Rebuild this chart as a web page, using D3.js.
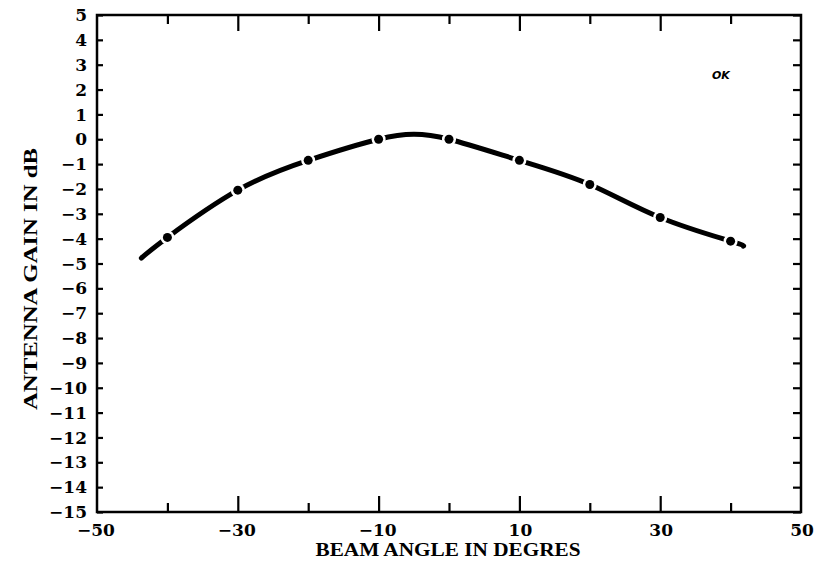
<!DOCTYPE html>
<html><head><meta charset="utf-8">
<script src="https://cdn.jsdelivr.net/npm/d3@7/dist/d3.min.js"></script>
<style>body{margin:0;background:#fff}svg{display:block}</style>
</head><body>
<svg id="c" width="816" height="563"></svg>
<script>
// Measured markers
const markerAngles = [-40, -30, -20, -10, 0, 10, 20, 30, 40];
const markerGains  = [-3.95, -2.05, -0.85, 0.0, 0.0, -0.85, -1.82, -3.15, -4.1];
// Curve through-points (includes ends and peak)
const curveAngles = [-43.7, -40, -30, -20, -10, -5, 0, 10, 20, 30, 40, 41.8];
const curveGains  = [-4.78, -3.95, -2.05, -0.85, 0.0, 0.2, 0.0, -0.85, -1.82, -3.15, -4.1, -4.3];
const xTickLabels = [-50, -30, -10, 10, 30, 50];
const xTicksAll = [-50, -40, -30, -20, -10, 0, 10, 20, 30, 40, 50];
const yTicks = d3.range(-15, 6, 1);

const svg = d3.select("#c");
const L = 97, R = 801, T = 15, B = 512;
const x = d3.scaleLinear().domain([-50, 50]).range([L, R]);
const y = d3.scaleLinear().domain([-15, 5]).range([B, T]);
const fmt = d => (d < 0 ? "\u2212" + Math.abs(d) : String(d));

const g = svg.append("g");
// frame
g.append("rect").attr("x", L).attr("y", T).attr("width", R - L).attr("height", B - T)
  .attr("fill", "none").attr("stroke", "#000").attr("stroke-width", 2.5);

// left axis ticks (inward)
const yl = d3.axisRight(y).tickValues(yTicks).tickSize(6).tickFormat("");
g.append("g").attr("transform", `translate(${L},0)`).call(yl)
  .call(s => { s.select(".domain").remove(); s.selectAll("line").attr("stroke-width", 2.2); });
// right axis ticks (inward)
const yr = d3.axisLeft(y).tickValues(yTicks).tickSize(8).tickFormat("");
g.append("g").attr("transform", `translate(${R},0)`).call(yr)
  .call(s => { s.select(".domain").remove(); s.selectAll("line").attr("stroke-width", 2.2); });
// y labels
g.append("g").selectAll("text").data(yTicks).join("text")
  .attr("x", 87).attr("y", d => y(d)).attr("dy", "0.36em")
  .attr("text-anchor", "end")
  .attr("font-family", "DejaVu Serif").attr("font-weight", "bold").attr("font-size", 17)
  .text(fmt);

// x ticks bottom and top (major longer)
const isMajor = d => xTickLabels.includes(d);
const inner = xTicksAll.filter(d => d > -50 && d < 50);
const xb = d3.axisTop(x).tickValues(inner).tickSize(0).tickFormat("");
g.append("g").attr("transform", `translate(0,${B})`).call(xb)
  .call(s => {
    s.select(".domain").remove();
    s.selectAll(".tick line").attr("y2", d => isMajor(d) ? -16 : -9).attr("stroke-width", 2.2);
  });
const xt = d3.axisBottom(x).tickValues(inner).tickSize(0).tickFormat("");
g.append("g").attr("transform", `translate(0,${T})`).call(xt)
  .call(s => {
    s.select(".domain").remove();
    s.selectAll(".tick line").attr("y2", d => isMajor(d) ? 16 : 9).attr("stroke-width", 2.2);
  });
// x labels
g.append("g").selectAll("text").data(xTickLabels).join("text")
  .attr("x", d => x(d) + (d < 0 ? -1 : 1)).attr("y", 536)
  .attr("text-anchor", "middle")
  .attr("font-family", "DejaVu Serif").attr("font-weight", "bold").attr("font-size", 17)
  .text(fmt);

// axis titles
svg.append("text").attr("x", 448).attr("y", 556).attr("text-anchor", "middle")
  .attr("font-family", "Liberation Serif").attr("font-weight", "bold").attr("font-size", 19)
  .attr("textLength", 265).attr("lengthAdjust", "spacingAndGlyphs")
  .text("BEAM ANGLE IN DEGRES");
svg.append("text").attr("transform", "translate(37,279) rotate(-90)").attr("text-anchor", "middle")
  .attr("font-family", "Liberation Serif").attr("font-weight", "bold").attr("font-size", 18)
  .attr("textLength", 262).attr("lengthAdjust", "spacingAndGlyphs")
  .text("ANTENNA GAIN IN dB");

// curve
const pts = curveAngles.map((a, i) => [a, curveGains[i]]);
const line = d3.line().x(d => x(d[0])).y(d => y(d[1])).curve(d3.curveNatural);
svg.append("path").attr("d", line(pts)).attr("fill", "none").attr("stroke", "#000")
  .attr("stroke-width", 5).attr("stroke-linecap", "round");
// markers with white halo to create gaps
const mk = markerAngles.map((a, i) => [a, markerGains[i]]);
svg.append("g").selectAll("circle.h").data(mk).join("circle")
  .attr("cx", d => x(d[0])).attr("cy", d => y(d[1])).attr("r", 7).attr("fill", "#fff");
svg.append("g").selectAll("circle.m").data(mk).join("circle")
  .attr("cx", d => x(d[0])).attr("cy", d => y(d[1])).attr("r", 4.5).attr("fill", "#000");

// annotation
svg.append("text").attr("x", 712).attr("y", 79)
  .attr("font-family", "DejaVu Sans").attr("font-style", "italic").attr("font-weight", "bold")
  .attr("font-size", 11).text("OK");
</script>
</body></html>
